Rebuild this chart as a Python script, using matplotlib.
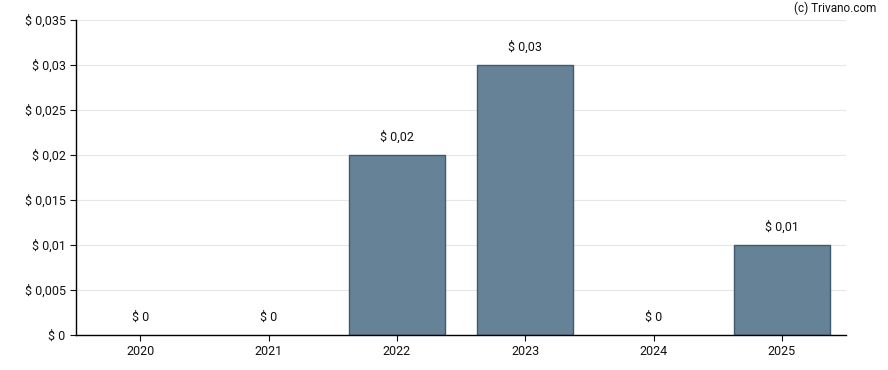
import matplotlib.pyplot as plt

years = ['2020', '2021', '2022', '2023', '2024', '2025']
dividends = [0, 0, 0.02, 0.03, 0, 0.01]
yticks = [0, 0.005, 0.01, 0.015, 0.02, 0.025, 0.03, 0.035]


def fmt(v):
    s = ('%.3f' % v).rstrip('0').rstrip('.')
    return '$ ' + s.replace('.', ',')


plt.rcParams['font.family'] = ['Roboto', 'DejaVu Sans']

fig = plt.figure(figsize=(8.88, 3.7), dpi=100)
ax = fig.add_axes([76 / 888, 35 / 370, 770 / 888, 315 / 370])

x = range(len(years))
widths = [1 if v > 0 else 0 for v in dividends]
ax.bar(x, dividends, width=0.75, color='#668296', edgecolor='#3d5a70', linewidth=widths, zorder=3)

for i, v in enumerate(dividends):
    ax.annotate(fmt(v), (i, v), xytext=(0, 8), textcoords='offset points',
                ha='center', va='bottom', fontsize=9, color='#111111')

ax.set_xlim(-0.5, len(years) - 0.5)
ax.set_ylim(0, 0.035)
ax.set_xticks(list(x))
ax.set_xticklabels(years)
ax.set_yticks(yticks)
ax.set_yticklabels([fmt(v) for v in yticks])
ax.tick_params(labelsize=9, colors='#111111', length=4)
ax.grid(axis='y', color='#e6e6e6', linewidth=0.8, zorder=0)

for side in ['top', 'right']:
    ax.spines[side].set_visible(False)
for side in ['left', 'bottom']:
    ax.spines[side].set_color('black')
    ax.spines[side].set_linewidth(1)
    ax.spines[side].set_zorder(4)

fig.text(876 / 888, 1 - 8 / 370, '(c) Trivano.com', ha='right', va='center', fontsize=8.5, color='#111111')

fig.savefig('out.png', dpi=100)
